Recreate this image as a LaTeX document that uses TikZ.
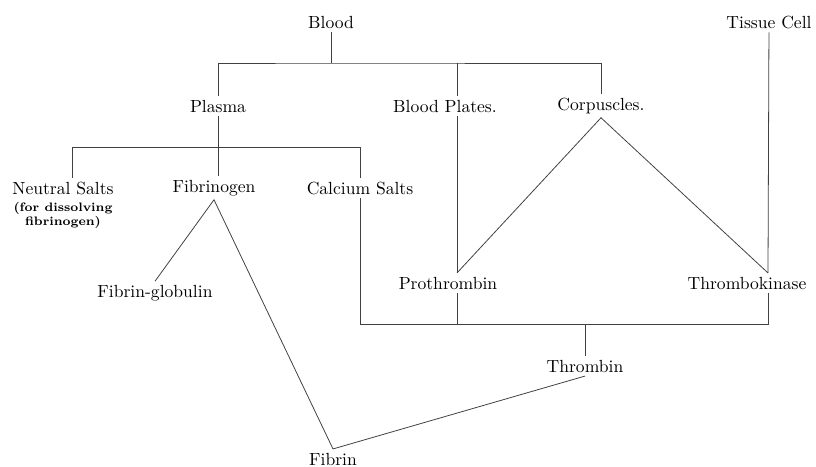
\documentclass[tikz,border=0pt]{standalone}
\usepackage{amsmath}
\usepackage{amssymb}
\usepackage{xcolor}
\usepackage{tikz}
\usetikzlibrary{positioning}

\tikzset{
  lbl/.style={inner sep=2pt, font=\normalsize},
  note/.style={inner sep=0pt, align=center, font=\scriptsize\bfseries},
  link/.style={draw=black!75, line width=0.45pt}
}

\begin{document}
\begin{tikzpicture}[x=0.02cm, y=-0.02cm]
        \useasboundingbox (0,0) rectangle (816,467);

        \node[lbl] (blood) at (331,22) {Blood};
        \node[lbl] (tc) at (769,22) {Tissue Cell};

        \node[lbl] (plasma) at (218,106) {Plasma};
        \node[lbl] (plates) at (445,106) {Blood Plates.};
        \node[lbl] (corp) at (601,106) {Corpuscles.};

        \node[lbl] (ns) at (63,188) {Neutral Salts};
        \node[note] (nsnote) [below=2pt of ns] {(for dissolving\\fibrinogen)};
        \node[lbl] (fbg) at (214,188) {Fibrinogen};
        \node[lbl] (cs) at (360,188) {Calcium Salts};

        \node[lbl] (fg) at (155,293) {Fibrin-globulin};
        \node[lbl] (pro) at (448,283) {Prothrombin};
        \node[lbl] (tk) at (747,283) {Thrombokinase};
        \node[lbl] (thr) at (585,366) {Thrombin};
        \node[lbl] (fibrin) at (333,459) {Fibrin};

        \coordinate (j1) at (331,63);
        \coordinate (pl) at (457,63);
        \coordinate (b2l) at (72,147);
        \coordinate (b2r) at (360,147);
        \coordinate (b3) at (585,324);
        \coordinate (tkdrop) at (768,324);

        % Blood into plasma, plates and corpuscles
        \draw[link] (blood) -- (j1);
        \draw[link] (plasma) |- (j1) -| (corp);
        \draw[link] (pl) -- (pl |- plates.north);
        \draw[link] (pl |- plates.south) -- (pl |- pro.north);

        % corpuscles give prothrombin and thrombokinase
        \draw[link] (pl |- pro.north) -- (corp.south) -- (tkdrop |- tk.north);
        \draw[link] (tc) -- (tkdrop |- tk.north);

        % plasma into salts and fibrinogen
        \draw[link] (plasma) -- (plasma |- fbg.north);
        \draw[link] (b2l |- ns.north) -- (b2l) -- (b2r) -- (cs);

        % fibrinogen
        \draw[link] (fg.north) -- (fbg.south) -- (fibrin.north);

        % thrombin
        \draw[link] (cs) |- (tkdrop) -- (tkdrop |- tk.south);
        \draw[link] (pl |- pro.south) -- (pl |- b3);
        \draw[link] (b3) -- (thr);
        \draw[link] (thr.south) -- (fibrin.north);
    \end{tikzpicture}
\end{document}
